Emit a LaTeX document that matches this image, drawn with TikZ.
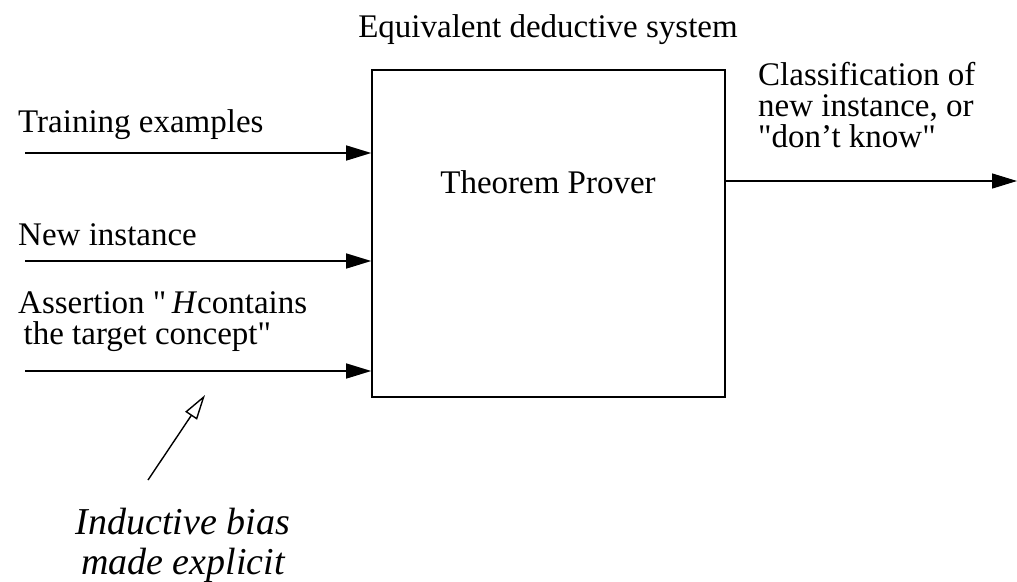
\documentclass[tikz,border=0pt]{standalone}
\usepackage{fontspec}
\setmainfont{Liberation Serif}
\usetikzlibrary{arrows.meta}
\begin{document}
\begin{tikzpicture}[x=1pt,y=-1pt,
  lbl/.style={font=\fontsize{33}{31}\selectfont, inner sep=0pt, align=left},
  inarrow/.style={line width=1.4pt, -{Triangle[length=25pt,width=15pt]}},
  openarrow/.style={line width=1.4pt, -{Triangle[open,length=25pt,width=14pt,line width=1.4pt]}}]
\useasboundingbox (0,0) rectangle (1017,581);
\node[draw, line width=1.6pt, minimum width=353pt, minimum height=327pt, inner sep=0pt] (box) at (548.5,233.5) {};
\node[lbl] (tp) at (548,182) {Theorem Prover};
\node[lbl] (title) at (548,30) {Equivalent deductive system};
\node[lbl, anchor=west] (te) at (18,125) {Training examples};
\node[lbl, anchor=west] (ni) at (18,235) {New instance};
\node[lbl, anchor=north west] (as) at (18,291) {Assertion \textquotedbl\,\textit{H}contains\\\,the target concept\textquotedbl};
\node[lbl, anchor=north west] (cl) at (758,62) {Classification of\\new instance, or\\\textquotedbl don't know\textquotedbl};
\node[lbl, font=\fontsize{38}{40}\selectfont\itshape, align=center] (ib) at (183,545) {Inductive bias\\made explicit};
\coordinate (s1) at (25,153);
\coordinate (s2) at (25,261);
\coordinate (s3) at (25,371);
\coordinate (e1) at (box.west |- s1);
\coordinate (e2) at (box.west |- s2);
\coordinate (e3) at (box.west |- s3);
\coordinate (o1) at (box.east |- 0,181);
\coordinate (o2) at (1017,181);
\draw[inarrow] (s1) -- (e1);
\draw[inarrow] (s2) -- (e2);
\draw[inarrow] (s3) -- (e3);
\draw[inarrow] (o1) -- (o2);
\coordinate (b0) at (148,480);
\coordinate (b1) at (205,395);
\draw[openarrow] (b0) -- (b1);
\end{tikzpicture}
\end{document}
